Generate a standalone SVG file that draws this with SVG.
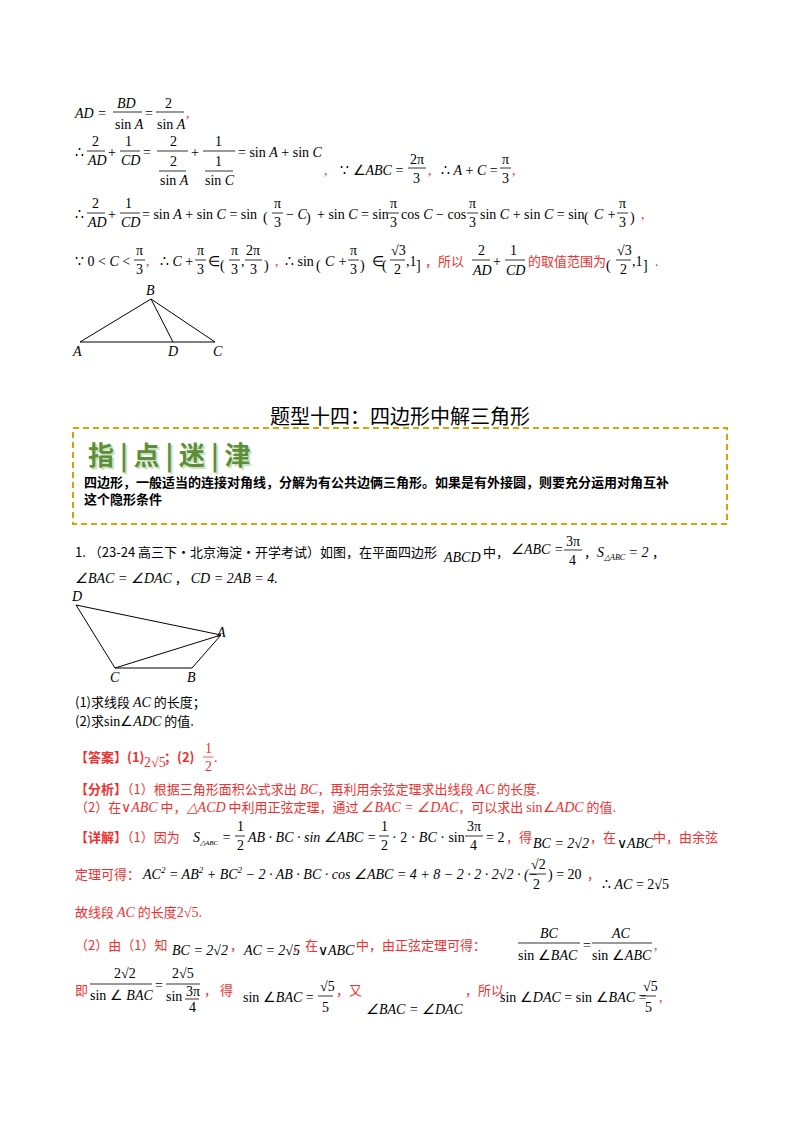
<svg xmlns="http://www.w3.org/2000/svg" width="800" height="1132" viewBox="0 0 800 1132">
<style>
.m{font-family:"Liberation Serif",serif;font-size:14px;font-style:italic;fill:#000}
.n{font-family:"Liberation Serif",serif;font-size:14px;fill:#000}
.c{font-family:"Noto Sans CJK SC",sans-serif;font-size:13px;fill:#000}
.r{fill:#f03030}
.cr{font-family:"Noto Sans CJK SC",sans-serif;font-size:13px;fill:#f03030}
.b{stroke:#000;stroke-width:0.8}
.g{stroke:#000;stroke-width:1;fill:none}
</style>
<rect width="800" height="1132" fill="#fff"/>
<!-- line 1 -->
<text class="m" x="75" y="118">AD <tspan class="n">=</tspan></text>
<text class="m" x="117" y="108">BD</text><line class="b" x1="113" y1="112" x2="142" y2="112"/><text class="n" x="115" y="129">sin <tspan class="m">A</tspan></text>
<text class="n" x="145" y="118">=</text>
<text class="n" x="165" y="108">2</text><line class="b" x1="156" y1="112" x2="184" y2="112"/><text class="n" x="157" y="129">sin <tspan class="m">A</tspan></text>
<text class="n r" x="186" y="118">,</text>
<!-- line 2 -->
<text class="n" x="75" y="157">∴</text>
<text class="n" x="92" y="146">2</text><line class="b" x1="87" y1="151" x2="105" y2="151"/><text class="m" x="88" y="165">AD</text>
<text class="n" x="108" y="157">+</text>
<text class="n" x="125" y="146">1</text><line class="b" x1="120" y1="151" x2="140" y2="151"/><text class="m" x="121" y="165">CD</text>
<text class="n" x="143" y="157">=</text>
<text class="n" x="170" y="146">2</text><line class="b" x1="157" y1="151" x2="188" y2="151"/><text class="n" x="170" y="166">2</text><line class="b" x1="159" y1="171" x2="186" y2="171"/><text class="n" x="160" y="185">sin <tspan class="m">A</tspan></text>
<text class="n" x="191" y="157">+</text>
<text class="n" x="215" y="146">1</text><line class="b" x1="203" y1="151" x2="235" y2="151"/><text class="n" x="215" y="166">1</text><line class="b" x1="205" y1="171" x2="233" y2="171"/><text class="n" x="205" y="185">sin <tspan class="m">C</tspan></text>
<text class="n" x="238" y="157">= sin <tspan class="m">A</tspan> + sin <tspan class="m">C</tspan></text>
<text class="n r" x="324" y="175">,</text>
<text class="n" x="340" y="175">∵ ∠<tspan class="m">ABC</tspan> =</text>
<text class="n" x="410" y="164">2π</text><line class="b" x1="408" y1="168" x2="426" y2="168"/><text class="n" x="413" y="183">3</text>
<text class="n r" x="428" y="175">,</text>
<text class="n" x="441" y="175">∴ <tspan class="m">A</tspan> + <tspan class="m">C</tspan> =</text>
<text class="n" x="502" y="164">π</text><line class="b" x1="500" y1="168" x2="511" y2="168"/><text class="n" x="502" y="183">3</text>
<text class="n r" x="512" y="175">,</text>
<!-- line 3 -->
<text class="n" x="75" y="219">∴</text>
<text class="n" x="92" y="208">2</text><line class="b" x1="87" y1="213" x2="105" y2="213"/><text class="m" x="88" y="227">AD</text>
<text class="n" x="108" y="219">+</text>
<text class="n" x="125" y="208">1</text><line class="b" x1="120" y1="213" x2="140" y2="213"/><text class="m" x="121" y="227">CD</text>
<text class="n" x="142" y="219">= sin <tspan class="m">A</tspan> + sin <tspan class="m">C</tspan> = sin</text>
<text class="n" x="263" y="222" font-size="30">(</text>
<text class="n" x="274" y="208">π</text><line class="b" x1="272" y1="213" x2="283" y2="213"/><text class="n" x="274" y="227">3</text>
<text class="n" x="286" y="219">− <tspan class="m">C</tspan></text>
<text class="n" x="306" y="222" font-size="30">)</text>
<text class="n" x="317" y="219">+ sin <tspan class="m">C</tspan> = sin</text>
<text class="n" x="390" y="208">π</text><line class="b" x1="388" y1="213" x2="399" y2="213"/><text class="n" x="390" y="227">3</text>
<text class="n" x="401" y="219">cos <tspan class="m">C</tspan> − cos</text>
<text class="n" x="469" y="208">π</text><line class="b" x1="467" y1="213" x2="478" y2="213"/><text class="n" x="469" y="227">3</text>
<text class="n" x="480" y="219">sin <tspan class="m">C</tspan> + sin <tspan class="m">C</tspan> = sin</text>
<text class="n" x="584" y="222" font-size="30">(</text>
<text class="m" x="594" y="219">C <tspan class="n">+</tspan></text>
<text class="n" x="619" y="208">π</text><line class="b" x1="617" y1="213" x2="628" y2="213"/><text class="n" x="619" y="227">3</text>
<text class="n" x="630" y="222" font-size="30">)</text>
<text class="n r" x="641" y="219">,</text>
<!-- line 4 -->
<text class="n" x="75" y="266">∵ 0 &lt; <tspan class="m">C</tspan> &lt;</text>
<text class="n" x="136" y="255">π</text><line class="b" x1="134" y1="260" x2="145" y2="260"/><text class="n" x="136" y="274">3</text>
<text class="n r" x="146" y="266">,</text>
<text class="n" x="160" y="266">∴ <tspan class="m">C</tspan> +</text>
<text class="n" x="197" y="255">π</text><line class="b" x1="195" y1="260" x2="206" y2="260"/><text class="n" x="197" y="274">3</text>
<text class="n" x="208" y="266">∈</text>
<text class="n" x="220" y="270" font-size="30">(</text>
<text class="n" x="231" y="255">π</text><line class="b" x1="229" y1="260" x2="240" y2="260"/><text class="n" x="231" y="274">3</text>
<text class="n" x="241" y="266">,</text>
<text class="n" x="246" y="255">2π</text><line class="b" x1="245" y1="260" x2="262" y2="260"/><text class="n" x="250" y="274">3</text>
<text class="n" x="264" y="270" font-size="30">)</text>
<text class="n r" x="275" y="266">,</text>
<text class="n" x="285" y="266">∴ sin</text>
<text class="n" x="316" y="270" font-size="30">(</text>
<text class="m" x="325" y="266">C <tspan class="n">+</tspan></text>
<text class="n" x="350" y="255">π</text><line class="b" x1="348" y1="260" x2="359" y2="260"/><text class="n" x="350" y="274">3</text>
<text class="n" x="360" y="270" font-size="30">)</text>
<text class="n" x="372" y="266">∈</text>
<text class="n" x="382" y="270" font-size="30">(</text>
<text class="n" x="391" y="255">√3</text><line class="b" x1="390" y1="260" x2="405" y2="260"/><text class="n" x="394" y="274">2</text>
<text class="n" x="406" y="266">,1</text>
<text class="n" x="416" y="270" font-size="30">]</text>
<text class="cr" x="425" y="266">，所以</text>
<text class="n" x="478" y="255">2</text><line class="b" x1="472" y1="260" x2="490" y2="260"/><text class="m" x="473" y="275">AD</text>
<text class="n" x="493" y="266">+</text>
<text class="n" x="510" y="255">1</text><line class="b" x1="505" y1="260" x2="525" y2="260"/><text class="m" x="506" y="275">CD</text>
<text class="cr" x="528" y="266">的取值范围为</text>
<text class="n" x="606" y="270" font-size="30">(</text>
<text class="n" x="617" y="255">√3</text><line class="b" x1="616" y1="260" x2="631" y2="260"/><text class="n" x="620" y="274">2</text>
<text class="n" x="632" y="266">,1</text>
<text class="n" x="643" y="270" font-size="30">]</text>
<text class="n r" x="655" y="266">.</text>
<!-- triangle ABC -->
<g id="tri1">
<path class="g" d="M80,342 L215,342 L151,299 Z M151,299 L173,342"/>
<text class="m" x="146" y="295">B</text><text class="m" x="73" y="356">A</text><text class="m" x="168" y="356">D</text><text class="m" x="213" y="356">C</text>
</g>
<!-- title -->
<text x="400" y="424" text-anchor="middle" font-family="Noto Sans CJK SC,sans-serif" font-size="20" fill="#000">题型十四：四边形中解三角形</text>
<rect x="73" y="428" width="654" height="96" fill="none" stroke="#e0a000" stroke-width="2" stroke-dasharray="6,4"/>
<text x="90" y="467" font-family="Noto Sans CJK SC,sans-serif" font-size="26" font-weight="bold" fill="#cfe0c0">指 | 点 | 迷 | 津</text>
<text x="88" y="465" font-family="Noto Sans CJK SC,sans-serif" font-size="26" font-weight="bold" fill="#5b8f3a">指 | 点 | 迷 | 津</text>
<text class="c" x="84" y="487" font-weight="bold">四边形，一般适当的连接对角线，分解为有公共边俩三角形。如果是有外接圆，则要充分运用对角互补</text>
<text class="c" x="84" y="504" font-weight="bold">这个隐形条件</text>
<!-- problem -->
<text class="c" x="75" y="557">1.  （23-24 高三下·北京海淀·开学考试）如图，在平面四边形</text>
<text class="m" x="444" y="562">ABCD</text>
<text class="c" x="483" y="557">中，</text>
<text class="m" x="511" y="554">∠ABC <tspan class="n">=</tspan></text>
<text class="n" x="566" y="546">3π</text><line class="b" x1="564" y1="550" x2="582" y2="550"/><text class="n" x="569" y="565">4</text>
<text class="c" x="584" y="557">，</text>
<text class="m" x="597" y="557">S<tspan font-size="8" dy="3">△ABC</tspan><tspan class="n" dy="-3"> = 2</tspan></text>
<text class="c" x="652" y="557">，</text>
<text class="m" x="75" y="583">∠BAC <tspan class="n">=</tspan> ∠DAC<tspan class="c" font-style="normal"> ， </tspan>CD <tspan class="n">= 2</tspan>AB <tspan class="n">= 4.</tspan></text>
<!-- quadrilateral -->
<g id="quad">
<path class="g" d="M76,605 L221,635 L192,668 L115,668 Z M115,668 L221,635"/>
<text class="m" x="72" y="601">D</text><text class="m" x="217" y="637">A</text><text class="m" x="110" y="682">C</text><text class="m" x="187" y="682">B</text>
</g>
<text class="c" x="75" y="707">(1)求线段 <tspan class="m">AC</tspan> 的长度；</text>
<text class="c" x="75" y="726">(2)求<tspan class="n">sin∠</tspan><tspan class="m">ADC</tspan> 的值.</text>
<text class="cr" x="75" y="762" font-weight="bold">【答案】(1)</text>
<text class="n r" x="144" y="767">2√5</text>
<text class="cr" x="164" y="762" font-weight="bold">；(2)</text>
<text class="n r" x="205" y="753">1</text><line x1="203" y1="757" x2="213" y2="757" stroke="#f03030" stroke-width="0.8"/><text class="n r" x="205" y="771">2</text>
<text class="n r" x="214" y="762">.</text>
<text class="cr" x="75" y="794"><tspan font-weight="bold">【分析】</tspan>（1）根据三角形面积公式求出 <tspan class="m r">BC</tspan>，再利用余弦定理求出线段 <tspan class="m r">AC</tspan> 的长度.</text>
<text class="cr" x="75" y="812">（2）在<tspan class="n r">∨</tspan><tspan class="m r">ABC</tspan> 中，<tspan class="m r">△ACD</tspan> 中利用正弦定理，通过 <tspan class="m r">∠BAC = ∠DAC</tspan>，可以求出 <tspan class="n r">sin∠</tspan><tspan class="m r">ADC</tspan> 的值.</text>
<text class="cr" x="75" y="842"><tspan font-weight="bold">【详解】</tspan>（1）因为</text>
<text class="m" x="193" y="842">S<tspan font-size="7" dy="3">△ABC</tspan><tspan class="n" dy="-3"> =</tspan></text>
<text class="n" x="237" y="831">1</text><line class="b" x1="235" y1="836" x2="245" y2="836"/><text class="n" x="237" y="850">2</text>
<text class="m" x="248" y="842">AB <tspan class="n">·</tspan> BC <tspan class="n">· sin ∠</tspan>ABC <tspan class="n">=</tspan></text>
<text class="n" x="381" y="831">1</text><line class="b" x1="379" y1="836" x2="389" y2="836"/><text class="n" x="381" y="850">2</text>
<text class="n" x="392" y="842">· 2 · <tspan class="m">BC</tspan> · sin</text>
<text class="n" x="467" y="831">3π</text><line class="b" x1="465" y1="836" x2="483" y2="836"/><text class="n" x="470" y="850">4</text>
<text class="n" x="486" y="842">= 2</text>
<text class="cr" x="506" y="842">，得</text>
<text class="m" x="533" y="848">BC <tspan class="n">= 2√2</tspan></text>
<text class="cr" x="590" y="842">，在</text>
<text class="n" x="617" y="848">∨<tspan class="m">ABC</tspan></text>
<text class="cr" x="653" y="842">中，由余弦</text>
<text class="cr" x="75" y="879">定理可得：</text>
<text class="m" x="143" y="879">AC<tspan font-size="9" dy="-6">2</tspan><tspan class="n" dy="6"> = </tspan>AB<tspan font-size="9" dy="-6">2</tspan><tspan class="n" dy="6"> + </tspan>BC<tspan font-size="9" dy="-6">2</tspan><tspan class="n" dy="6"> − 2 · </tspan>AB<tspan class="n"> · </tspan>BC<tspan class="n"> · cos ∠</tspan>ABC<tspan class="n"> = 4 + 8 − 2 · 2 · 2√2 · (−</tspan></text>
<text class="n" x="531" y="869">√2</text><line class="b" x1="529" y1="874" x2="546" y2="874"/><text class="n" x="533" y="889">2</text>
<text class="n" x="548" y="879">) = 20</text>
<text class="cr" x="587" y="879">，</text>
<text class="n" x="602" y="889" font-size="11">∴ <tspan font-style="italic">AC</tspan> = 2√5</text>
<text class="n" x="656" y="889">.</text>
<text class="cr" x="75" y="917">故线段 <tspan class="m r">AC</tspan> 的长度<tspan class="n r">2√5</tspan>.</text>
<text class="cr" x="75" y="950">（2）由（1）知</text>
<text class="m" x="172" y="955">BC <tspan class="n">= 2√2</tspan></text>
<text class="cr" x="230" y="950">，</text>
<text class="m" x="244" y="955" font-size="12">AC <tspan class="n" font-size="12">= 2√5</tspan></text>
<text class="cr" x="292" y="950">，在</text>
<text class="n" x="318" y="955">∨<tspan class="m">ABC</tspan></text>
<text class="cr" x="356" y="950">中，由正弦定理可得：</text>
<text class="m" x="540" y="938">BC</text><line class="b" x1="518" y1="943" x2="580" y2="943"/><text class="n" x="518" y="960">sin ∠<tspan class="m">BAC</tspan></text>
<text class="n" x="583" y="950">=</text>
<text class="m" x="612" y="938">AC</text><line class="b" x1="592" y1="943" x2="652" y2="943"/><text class="n" x="592" y="960">sin ∠<tspan class="m">ABC</tspan></text>
<text class="n r" x="654" y="950">,</text>
<text class="cr" x="75" y="995">即</text>
<text class="n" x="114" y="978">2√2</text><line class="b" x1="90" y1="984" x2="152" y2="984"/><text class="n" x="90" y="1000">sin ∠ <tspan class="m">BAC</tspan></text>
<text class="n" x="155" y="990">=</text>
<text class="n" x="172" y="978">2√5</text><line class="b" x1="166" y1="984" x2="200" y2="984"/><text class="n" x="166" y="1001">sin</text><text class="n" x="186" y="996" font-size="12">3π</text><line class="b" x1="185" y1="999" x2="199" y2="999"/><text class="n" x="189" y="1012" font-size="12">4</text>
<text class="cr" x="204" y="995">，  得</text>
<text class="n" x="243" y="1002">sin ∠<tspan class="m">BAC</tspan> =</text>
<text class="n" x="320" y="991">√5</text><line class="b" x1="318" y1="996" x2="333" y2="996"/><text class="n" x="322" y="1012">5</text>
<text class="cr" x="336" y="995">，又</text>
<text class="m" x="366" y="1014">∠BAC <tspan class="n">=</tspan> ∠DAC</text>
<text class="cr" x="465" y="995">，所以</text>
<text class="n" x="500" y="1002">sin ∠<tspan class="m">DAC</tspan> = sin ∠<tspan class="m">BAC</tspan> =</text>
<text class="n" x="643" y="991">√5</text><line class="b" x1="641" y1="996" x2="656" y2="996"/><text class="n" x="645" y="1012">5</text>
<text class="n r" x="659" y="1002">,</text>
</svg>
